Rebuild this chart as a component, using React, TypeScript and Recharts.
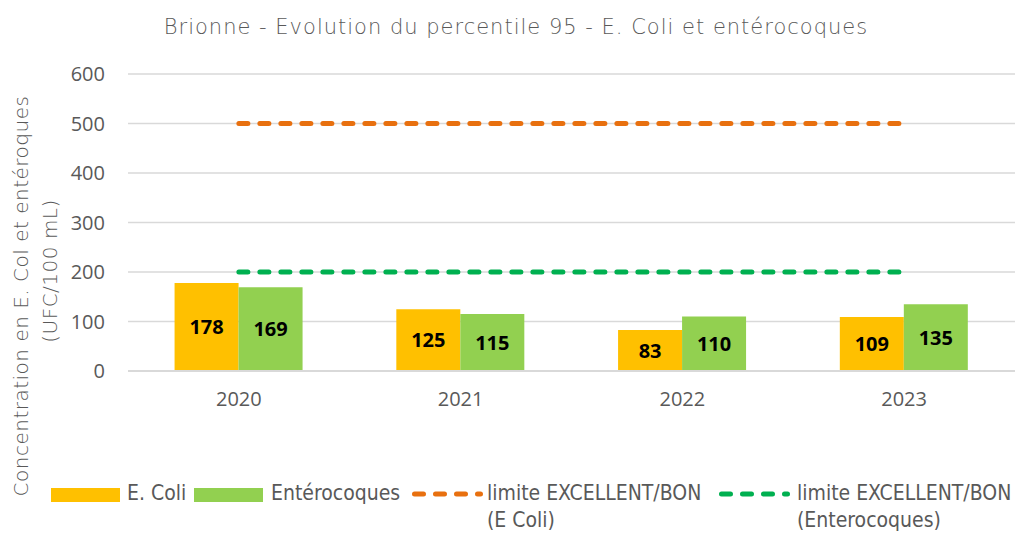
import { Bar, CartesianGrid, ComposedChart, LabelList, Line, XAxis, YAxis } from 'recharts';

const years = ['2020', '2021', '2022', '2023'];
const eColi = [178, 125, 83, 109];
const enterocoques = [169, 115, 110, 135];
const limiteEColi = [500, 500, 500, 500];
const limiteEntero = [200, 200, 200, 200];
const yTicks = [0, 100, 200, 300, 400, 500, 600];

const ORANGE_BAR = '#FFC000';
const GREEN_BAR = '#92D050';
const ORANGE_LINE = '#E8700F';
const GREEN_LINE = '#00B050';
const GREY_TEXT = '#595959';

const data = years.map((year, i) => ({
  year,
  eColi: eColi[i],
  enterocoques: enterocoques[i],
  limiteEColi: limiteEColi[i],
  limiteEntero: limiteEntero[i],
}));

const TICK_FONT = '"Open Sans", sans-serif';
const TITLE_FONT = '"DejaVu Sans", sans-serif';
const NARROW_FONT = '"DejaVu Sans Condensed", "Liberation Sans Narrow", sans-serif';

const Swatch = ({ color }: any) => (
  <div style={{ width: 69, height: 14, backgroundColor: color, marginTop: 8 }} />
);

const DashSwatch = ({ color }: any) => (
  <svg width={72} height={10} style={{ display: 'block', marginTop: 9 }}>
    <line
      x1={2.5}
      y1={5}
      x2={68.5}
      y2={5}
      stroke={color}
      strokeWidth={5}
      strokeDasharray="9 12"
      strokeLinecap="round"
    />
  </svg>
);

const ChartLegend = () => {
  const at = (left: number) => ({ position: 'absolute', left, top: 0 } as const);
  return (
    <div
      style={{
        position: 'absolute',
        left: 0,
        top: 480,
        width: 1020,
        fontFamily: NARROW_FONT,
        fontSize: 21,
        color: GREY_TEXT,
        lineHeight: '27px',
        whiteSpace: 'nowrap',
      }}
    >
      <div style={at(51)}><Swatch color={ORANGE_BAR} /></div>
      <div style={at(127)}>E. Coli</div>
      <div style={at(194)}><Swatch color={GREEN_BAR} /></div>
      <div style={at(271)}>Entérocoques</div>
      <div style={at(412)}><DashSwatch color={ORANGE_LINE} /></div>
      <div style={at(487)}>limite EXCELLENT/BON<br />(E Coli)</div>
      <div style={at(719)}><DashSwatch color={GREEN_LINE} /></div>
      <div style={at(797)}>limite EXCELLENT/BON<br />(Enterocoques)</div>
    </div>
  );
};

const YTitle = () => (
  <g fontFamily={TITLE_FONT} fontWeight={300} fontSize={20} letterSpacing={0.5} fill={GREY_TEXT}>
    <text transform="translate(28,296) rotate(-90)" textAnchor="middle">
      Concentration en E. Col et entéroques
    </text>
    <text transform="translate(57,271) rotate(-90)" textAnchor="middle">
      (UFC/100 mL)
    </text>
  </g>
);

export default function App() {
  return (
    <div style={{ position: 'absolute', left: 0, top: 0, width: 1020, height: 534, background: '#fff' }}>
      <div
        style={{
          position: 'absolute',
          left: 0,
          width: 1020,
          top: 15,
          textAlign: 'center',
          paddingLeft: 6,
          fontFamily: TITLE_FONT,
          fontWeight: 300,
          fontSize: 21,
          letterSpacing: 1,
          color: GREY_TEXT,
        }}
      >
        Brionne - Evolution du percentile 95 - E. Coli et entérocoques
      </div>
      <ComposedChart
        width={1020}
        height={534}
        data={data}
        margin={{ top: 74, right: 5, bottom: 133, left: 0 }}
        barCategoryGap="21%"
        barGap={0}
      >
        <CartesianGrid vertical={false} stroke="#D9D9D9" strokeWidth={1.5} />
        <XAxis
          dataKey="year"
          height={30}
          axisLine={{ stroke: '#D9D9D9', strokeWidth: 2 }}
          tickLine={false}
          tickSize={0}
          tickMargin={21}
          tick={{ fill: GREY_TEXT, fontSize: 20, fontFamily: TICK_FONT }}
        />
        <YAxis
          width={128}
          domain={[0, 600]}
          ticks={yTicks}
          axisLine={false}
          tickLine={false}
          tickSize={0}
          tickMargin={23}
          tick={{ fill: GREY_TEXT, fontSize: 20, fontFamily: TICK_FONT }}
        />
        <Bar dataKey="eColi" fill={ORANGE_BAR} isAnimationActive={false}>
          <LabelList
            dataKey="eColi"
            position="center"
            fill="#000"
            fontSize={20}
            fontWeight="bold"
            fontFamily={TICK_FONT}
          />
        </Bar>
        <Bar dataKey="enterocoques" fill={GREEN_BAR} isAnimationActive={false}>
          <LabelList
            dataKey="enterocoques"
            position="center"
            fill="#000"
            fontSize={20}
            fontWeight="bold"
            fontFamily={TICK_FONT}
          />
        </Bar>
        <Line
          dataKey="limiteEColi"
          stroke={ORANGE_LINE}
          strokeWidth={5}
          strokeDasharray="9 12"
          strokeLinecap="round"
          dot={false}
          activeDot={false}
          isAnimationActive={false}
        />
        <Line
          dataKey="limiteEntero"
          stroke={GREEN_LINE}
          strokeWidth={5}
          strokeDasharray="9 12"
          strokeLinecap="round"
          dot={false}
          activeDot={false}
          isAnimationActive={false}
        />
        <YTitle />
      </ComposedChart>
      <ChartLegend />
    </div>
  );
}
